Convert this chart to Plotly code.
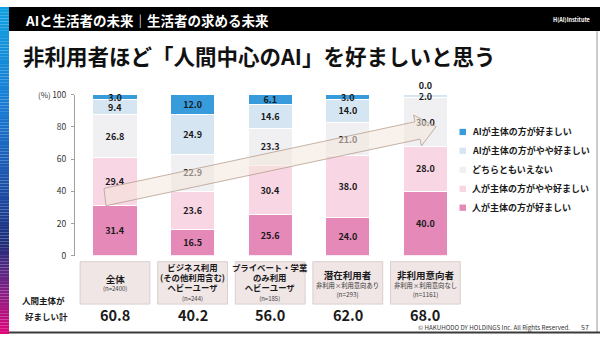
import plotly.graph_objects as go

# ---- data -------------------------------------------------------------
categories = ["全体", "ビジネス利用", "プライベート・学業", "潜在利用者", "非利用意向者"]
series_names = [
    "人が主体の方が好ましい",
    "人が主体の方がやや好ましい",
    "どちらともいえない",
    "AIが主体の方がやや好ましい",
    "AIが主体の方が好ましい",
]
human_strong = [31.4, 16.5, 25.6, 24.0, 40.0]
human_weak = [29.4, 23.6, 30.4, 38.0, 28.0]
neutral = [26.8, 22.9, 23.3, 21.0, 30.0]
ai_weak = [9.4, 24.9, 14.6, 14.0, 2.0]
ai_strong = [3.0, 12.0, 6.1, 3.0, 0.0]
human_total = [60.8, 40.2, 56.0, 62.0, 68.0]
y_ticks = [0, 20, 40, 60, 80, 100]

group_titles = [
    ["全体"],
    ["ビジネス利用", "(その他利用含む)", "ヘビーユーザ"],
    ["プライベート・学業", "のみ利用", "ヘビーユーザ"],
    ["潜在利用者"],
    ["非利用意向者"],
]
group_notes = ["", "", "", "非利用×利用意向あり", "非利用×利用意向なし"]
group_n = ["(n=2400)", "(n=244)", "(n=185)", "(n=293)", "(n=1161)"]

series_values = [human_strong, human_weak, neutral, ai_weak, ai_strong]
series_colors = ["#E589B8", "#F8D6E4", "#F0F0F2", "#D5E5F2", "#389CDC"]

# ---- canvas helpers ----------------------------------------------------
W, H = 600, 339
FONT = "Noto Sans CJK JP"
DARK = "#1a1a1a"


def px(x):
    return x / W


def py(y):
    return 1 - y / H


fig = go.Figure()

# stacked bars
n_series = len(series_values)
for k, (name, vals, col) in enumerate(zip(series_names, series_values, series_colors)):
    top = k == n_series - 1
    positions = ["outside" if (top and v == 0) else "inside" for v in vals]
    fig.add_trace(go.Bar(
        x=categories, y=vals, name=name,
        marker=dict(color=col, line=dict(color="white", width=1)),
        texttemplate="<b>%{y:.1f}</b>",
        textposition=positions,
        insidetextanchor="middle",
        textangle=0,
        constraintext="none",
        textfont=dict(family=FONT, size=9, color=DARK),
        cliponaxis=False,
        showlegend=False,
        hoverinfo="skip",
    ))

axis_left = 75
center0, step = 115, 77.6
x_lo = (axis_left - center0) / step
x_hi = (462 - center0) / step

fig.update_layout(
    width=W, height=H,
    margin=dict(l=0, r=0, t=0, b=0),
    paper_bgcolor="white", plot_bgcolor="rgba(0,0,0,0)",
    barmode="stack", bargap=0.43,
    uniformtext=dict(minsize=9, mode="show"),
    xaxis=dict(domain=[px(axis_left), px(462)], range=[x_lo, x_hi],
               showticklabels=False, showline=False, showgrid=False,
               zeroline=False, ticks="", fixedrange=True),
    yaxis=dict(domain=[py(258), py(91)], range=[0, 100],
               tickvals=y_ticks, showgrid=False, zeroline=False,
               showline=True, linecolor="#a0a0a0", linewidth=1,
               ticks="outside", ticklen=3, tickcolor="#a0a0a0",
               ticklabelstandoff=3,
               tickfont=dict(family=FONT, size=8.5, color="#333")),
    font=dict(family=FONT),
)

shapes = []
annotations = []

# left gradient strip
stops = [(0, (15, 160, 225)), (110, (25, 120, 210)), (200, (28, 72, 160)),
         (245, (30, 45, 120)), (285, (110, 35, 135)), (339, (225, 5, 120))]
seg = 3
for y0 in range(0, H, seg):
    yc = y0 + seg / 2
    for (a, ca), (b, cb) in zip(stops[:-1], stops[1:]):
        if a <= yc <= b:
            t = (yc - a) / (b - a)
            c = tuple(int(round(ca[i] + (cb[i] - ca[i]) * t)) for i in range(3))
            break
    shapes.append(dict(type="rect", xref="paper", yref="paper",
                       x0=px(0), x1=px(9), y0=py(min(y0 + seg, H)), y1=py(y0),
                       fillcolor="rgb(%d,%d,%d)" % c, line=dict(width=0), layer="below"))

# header band
shapes.append(dict(type="rect", xref="paper", yref="paper", x0=px(9), x1=px(600),
                   y0=py(25), y1=py(0), fillcolor="#000000", line=dict(width=0), layer="below"))
# frame lines
shapes.append(dict(type="line", xref="paper", yref="paper", x0=px(597), x1=px(597),
                   y0=py(25), y1=py(337), line=dict(color="#9a9a9a", width=1)))
shapes.append(dict(type="line", xref="paper", yref="paper", x0=px(9), x1=px(600),
                   y0=py(337.5), y1=py(337.5), line=dict(color="#3a3a3a", width=2)))

annotations.append(dict(xref="paper", yref="paper", x=px(23), y=py(13), xanchor="left",
                        yanchor="middle", showarrow=False,
                        text="AIと生活者の未来｜生活者の求める未来",
                        font=dict(family=FONT, size=13.5, color="white", weight="bold")))
# institute logo
annotations.append(dict(xref="paper", yref="paper", x=px(592), y=py(13), xanchor="right",
                        yanchor="middle", showarrow=False, text="H(AI)Institute",
                        font=dict(family=FONT, size=5.5, color="white", weight="bold")))

# title
annotations.append(dict(xref="paper", yref="paper", x=px(21), y=py(50), xanchor="left",
                        yanchor="middle", showarrow=False,
                        text="非利用者ほど「人間中心のAI」を好ましいと思う",
                        font=dict(family=FONT, size=21.5, color="#111", weight="bold")))

# y-axis unit
annotations.append(dict(xref="paper", yref="paper", x=px(53), y=py(91), xanchor="right",
                        yanchor="middle", showarrow=False, text="(%)",
                        font=dict(family=FONT, size=8, color="#333")))

# translucent trend arrow over the bars
arrow_pts = [(104, 188), (415, 119), (413.5, 112), (436, 124), (421.5, 144),
             (420, 137), (106, 206)]
path = "M " + " L ".join("%.4f,%.4f" % (px(x), py(y)) for x, y in arrow_pts) + " Z"
shapes.append(dict(type="path", xref="paper", yref="paper", path=path,
                   fillcolor="rgba(244,229,218,0.55)",
                   line=dict(color="rgba(175,150,135,0.9)", width=0.8), layer="above"))


def span(txt, size, color=DARK, bold=False):
    s = "<span style='font-size:%.1fpx;color:%s'>%s</span>" % (size, color, txt)
    return "<b>%s</b>" % s if bold else s


# group label boxes: one multi-line label per box
for i in range(len(categories)):
    shapes.append(dict(type="rect", xref="x", yref="paper", x0=i - 0.45, x1=i + 0.45,
                       y0=py(308), y1=py(264), fillcolor="#F0E6E6",
                       line=dict(color="#D3C6C6", width=0.8), layer="below"))
    titles = group_titles[i]
    if len(titles) == 3:
        lines = [span(t, 8.4, bold=True) for t in titles] + [span(group_n[i], 6, "#444")]
        base, yc = 7.6, 285.6
    elif group_notes[i]:
        lines = [span(titles[0], 9.5, bold=True), span(group_notes[i], 6.3, "#333"),
                 span(group_n[i], 6.3, "#444")]
        base, yc = 6.8, 286.5
    else:
        lines = [span(titles[0], 9.5, bold=True), span(group_n[i], 6, "#444")]
        base, yc = 6.5, 285.3
    annotations.append(dict(xref="x", yref="paper", x=i, y=py(yc), xanchor="center",
                            yanchor="middle", showarrow=False, text="<br>".join(lines),
                            align="center",
                            font=dict(family=FONT, size=base, color=DARK)))
    # human-centred total
    annotations.append(dict(xref="x", yref="paper", x=i, y=py(318.5), xanchor="center",
                            yanchor="middle", showarrow=False, text="%.1f" % human_total[i],
                            font=dict(family=FONT, size=14.5, color=DARK, weight="bold")))

annotations.append(dict(xref="paper", yref="paper", x=px(43), y=py(304), xanchor="center",
                        yanchor="middle", showarrow=False, text="人間主体が",
                        font=dict(family=FONT, size=8.5, color=DARK, weight="bold")))
annotations.append(dict(xref="paper", yref="paper", x=px(46), y=py(320), xanchor="center",
                        yanchor="middle", showarrow=False, text="好ましい計",
                        font=dict(family=FONT, size=8.5, color=DARK, weight="bold")))

# legend (top item = last series)
legend_y = [129.5, 149, 168.7, 188.5, 208]
for row, k in enumerate(reversed(range(n_series))):
    yy = legend_y[row]
    shapes.append(dict(type="rect", xref="paper", yref="paper", x0=px(459.5), x1=px(466),
                       y0=py(yy + 3.3), y1=py(yy - 3.2), fillcolor=series_colors[k],
                       line=dict(width=0)))
    annotations.append(dict(xref="paper", yref="paper", x=px(470), y=py(yy), xanchor="left",
                            yanchor="middle", showarrow=False, text=series_names[k],
                            font=dict(family=FONT, size=9, color=DARK, weight="bold")))

# footer
annotations.append(dict(xref="paper", yref="paper", x=px(572), y=py(332), xanchor="right",
                        yanchor="middle", showarrow=False,
                        text="© HAKUHODO DY HOLDINGS Inc. All Rights Reserved.",
                        font=dict(family=FONT, size=6.2, color="#333")))
annotations.append(dict(xref="paper", yref="paper", x=px(591), y=py(332), xanchor="right",
                        yanchor="middle", showarrow=False, text="57",
                        font=dict(family=FONT, size=7, color="#333")))

fig.update_layout(shapes=shapes, annotations=annotations)
fig.write_html("out.html")
